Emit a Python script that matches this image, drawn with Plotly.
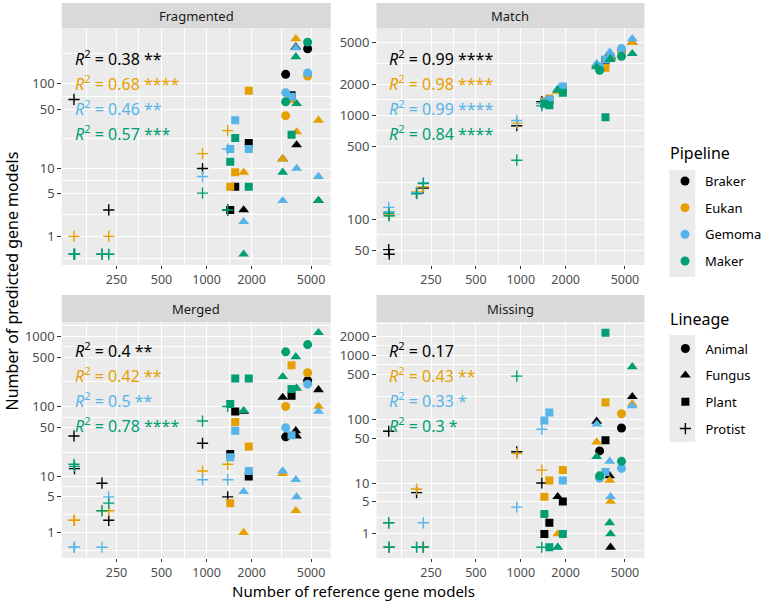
import numpy as np
import plotly.graph_objects as go

# ---------------- data ----------------
panels = ["Fragmented", "Match", "Merged", "Missing"]
pipelines = ["Braker", "Eukan", "Gemoma", "Maker"]
lineages = ["Animal", "Fungus", "Plant", "Protist"]

species = ["P1a", "P1b", "P2", "P3", "P4", "P5", "S1", "S2", "S3", "S4",
           "T1", "T2", "T3a", "T3b", "T4", "C1", "C2"]
lineage = ["Protist"] * 6 + ["Plant"] * 4 + ["Fungus"] * 5 + ["Animal"] * 2
ref_genes = [130, 131, 200, 222, 940, 1385, 1440, 1555, 1915, 3700,
             1770, 3230, 3950, 4000, 5600, 3380, 4740]

fragmented = {
    "Braker": [65, 0, 0, 3, 10, 3, 3, 6, 20, 73, 3, 13, 267, 19, 4, 128, 255],
    "Eukan":  [1, 0, 0, 1, 15, 28, 6, 9, 82, 66, 9, 13, 334, 27, 37, 42, 122],
    "Gemoma": [0, 0, 0, 0, 8, 17, 17, 37, 17, 70, 2, 4, 262, 10, 8, 78, 133],
    "Maker":  [0, 0, 0, 0, 5, 3, 12, 23, 6, 25, 0, 9, 205, 58, 4, 61, 305],
}
match = {
    "Braker": [51, 46, 178, 200, 794, 1355, 1350, 1400, 1800, 3400, 1750, 3050, 3900, 3700, 5000, 2900, 4200],
    "Eukan":  [112, 108, 183, 205, 841, 1310, 1355, 1450, 1800, 2880, 1700, 3000, 3800, 3600, 5000, 2850, 4200],
    "Gemoma": [130, 118, 180, 225, 893, 1300, 1330, 1420, 1900, 3440, 1800, 3150, 4070, 3800, 5460, 2930, 4390],
    "Maker":  [114, 108, 176, 221, 370, 1233, 1290, 1250, 1650, 960, 1754, 2930, 3440, 3500, 3925, 2720, 3700],
}
merged = {
    "Braker": [38, 13, 8, 2, 30, 5, 21, 85, 10, 142, 85, 134, 45, 38, 172, 37, 233],
    "Eukan":  [2, 2, 3, 3, 12, 15, 4, 60, 27, 386, 1, 11, 3, 180, 100, 100, 301],
    "Gemoma": [0, 0, 0, 5, 9, 9, 19, 45, 12, 39, 6, 12, 9, 5, 85, 50, 207],
    "Maker":  [15, 14, 3, 4, 62, 100, 108, 250, 250, 177, 87, 265, 506, 181, 1114, 596, 756],
}
missing = {
    "Braker": [65, 0, 7, 0, 31, 10, 1, 2, 5, 47, 6, 93, 13, 0, 226, 32, 73],
    "Eukan":  [2, 0, 8, 0, 29, 16, 6, 11, 16, 183, 1, 44, 11, 5, 174, 12, 122],
    "Gemoma": [2, 0, 0, 2, 4, 70, 96, 128, 11, 15, 0, 84, 22, 6, 162, 12, 17],
    "Maker":  [2, 0, 0, 0, 473, 0, 3, 0, 1, 2253, 0, 26, 2, 1, 660, 13, 22],
}
panel_data = [fragmented, match, merged, missing]

r2_labels = [
    ["0.38 **", "0.68 ****", "0.46 **", "0.57 ***"],
    ["0.99 ****", "0.98 ****", "0.99 ****", "0.84 ****"],
    ["0.4 **", "0.42 **", "0.5 **", "0.78 ****"],
    ["0.17", "0.43 **", "0.33 *", "0.3 *"],
]

x_breaks = [100, 250, 500, 1000, 2000, 5000]
y_breaks = [1, 5, 10, 50, 100, 500, 1000, 2000, 5000]

# ---------------- style ----------------
colors = {"Braker": "#000000", "Eukan": "#E69F00", "Gemoma": "#56B4E9", "Maker": "#009E73"}
symbols = {"Animal": "circle", "Fungus": "triangle-up", "Plant": "square", "Protist": "cross-thin"}
msize = {"Animal": 9, "Fungus": 9.5, "Plant": 8, "Protist": 8}
FONT = "Noto Sans"
W, H = 767, 602

LN10 = np.log(10)


def ptrans(v):
    return np.arcsinh(np.asarray(v, float) / 2.0) / LN10


def minor_mid(b):
    b = list(b)
    bd = b[1] - b[0]
    b = [b[0] - bd] + b + [b[-1] + bd]
    return [(b[i] + b[i + 1]) / 2 for i in range(len(b) - 1)]


# panel geometry (pixels)
px_x = [(62, 332), (378, 647), (62, 332), (378, 647)]
px_y = [(28, 265), (28, 265), (322, 558), (322, 558)]
strip_y = [(3, 28), (3, 28), (295, 322), (295, 322)]

fig = go.Figure()

# x range (log10) with 5% expansion
lx = np.log10(ref_genes)
xr = lx.max() - lx.min()
x_range = [lx.min() - 0.05 * xr, lx.max() + 0.05 * xr]
x_minor = [10 ** m for m in minor_mid(np.log10(x_breaks))]

for i, (pname, pdata) in enumerate(zip(panels, panel_data)):
    ax = "" if i == 0 else str(i + 1)
    for pipe in pipelines:
        vals = pdata[pipe]
        fig.add_trace(go.Scatter(
            x=ref_genes, y=ptrans(vals),
            mode="markers",
            xaxis="x" + ax, yaxis="y" + ax,
            showlegend=False,
            marker=dict(
                color=colors[pipe], opacity=1,
                symbol=[symbols[l] for l in lineage],
                size=[msize[l] for l in lineage],
                line=dict(color=colors[pipe],
                          width=[1.4 if l == "Protist" else 0 for l in lineage]),
            ),
            customdata=vals,
            hovertemplate="%{x}, %{customdata}<extra>" + pipe + "</extra>",
        ))

    allv = np.concatenate([ptrans(pdata[p]) for p in pipelines])
    yr = allv.max() - allv.min()
    y_range = [allv.min() - 0.05 * yr, allv.max() + 0.05 * yr]
    tb = ptrans(y_breaks)
    tv = [t for t in tb if y_range[0] <= t <= y_range[1]]
    tt = [str(b) for b, t in zip(y_breaks, tb) if y_range[0] <= t <= y_range[1]]
    ymin = [m for m in minor_mid(tb) if y_range[0] <= m <= y_range[1]]

    (x0, x1), (y0, y1) = px_x[i], px_y[i]
    common = dict(
        showgrid=True, gridcolor="white", gridwidth=1.2, zeroline=False,
        showline=False, ticks="outside", tickwidth=1.1, tickcolor="#333333",
    )
    fig.update_layout(**{
        "xaxis" + ax: dict(
            type="log", range=x_range, domain=[x0 / W, x1 / W],
            anchor="y" + ax, tickmode="array",
            tickvals=x_breaks, ticktext=[str(b) for b in x_breaks],
            ticklen=3, tickfont=dict(family=FONT, size=12.5, color="#4D4D4D"),
            minor=dict(tickmode="array", tickvals=x_minor, showgrid=True,
                       gridcolor="white", gridwidth=0.6, ticks=""),
            **common),
        "yaxis" + ax: dict(
            range=y_range, domain=[1 - y1 / H, 1 - y0 / H],
            anchor="x" + ax, tickmode="array", tickvals=tv, ticktext=tt,
            ticklen=3.5, tickfont=dict(family=FONT, size=13, color="#4D4D4D"),
            minor=dict(tickmode="array", tickvals=ymin, showgrid=True,
                       gridcolor="white", gridwidth=0.6, ticks=""),
            **common),
    })

    # strip
    sy0, sy1 = strip_y[i]
    fig.add_shape(type="rect", xref="paper", yref="paper",
                  x0=x0 / W, x1=x1 / W, y0=1 - sy1 / H, y1=1 - sy0 / H,
                  fillcolor="#D9D9D9", line=dict(width=0), layer="below")
    fig.add_annotation(text=pname, xref="paper", yref="paper",
                       x=(x0 + x1) / 2 / W, y=1 - (sy0 + sy1) / 2 / H,
                       showarrow=False, xanchor="center", yanchor="middle",
                       font=dict(family=FONT, size=13, color="#1A1A1A"))

    # R^2 labels
    ph = y1 - y0
    offs = [30, 55, 80, 105] if i < 2 else [28, 53, 78, 103]
    for k, pipe in enumerate(pipelines):
        fig.add_annotation(
            text="<i>R</i><sup>2</sup> = " + r2_labels[i][k],
            xref="x" + ax + " domain", yref="y" + ax + " domain",
            x=11 / (x1 - x0), y=1 - offs[k] / ph,
            xanchor="left", yanchor="middle", showarrow=False,
            font=dict(family=FONT, size=16, color=colors[pipe]))

# axis titles
fig.add_annotation(text="Number of reference gene models", xref="paper", yref="paper",
                   x=(62 + 647) / 2 / W, y=0, showarrow=False,
                   xanchor="center", yanchor="bottom", borderpad=0,
                   font=dict(family=FONT, size=15, color="#000000"))
fig.add_annotation(text="Number of predicted gene models", xref="paper", yref="paper",
                   x=12 / W, y=1 - 280.5 / H, showarrow=False, textangle=-90,
                   xanchor="center", yanchor="middle",
                   font=dict(family=FONT, size=16, color="#000000"))

# legend titles
for title, ty in [("Pipeline", 153), ("Lineage", 319)]:
    fig.add_annotation(text=title, xref="paper", yref="paper", x=671 / W, y=1 - ty / H,
                       showarrow=False, xanchor="left", yanchor="middle",
                       font=dict(family=FONT, size=16, color="#000000"))

# legend key backgrounds
fig.add_shape(type="rect", xref="paper", yref="paper", x0=672 / W, x1=698 / W,
              y0=1 - 277 / H, y1=1 - 170 / H, fillcolor="#EBEBEB", line=dict(width=0),
              layer="below")
fig.add_shape(type="rect", xref="paper", yref="paper", x0=672 / W, x1=698 / W,
              y0=1 - 442 / H, y1=1 - 335 / H, fillcolor="#EBEBEB", line=dict(width=0),
              layer="below")

# legend entries
for pipe in pipelines:
    fig.add_trace(go.Scatter(x=[None], y=[None], mode="markers", name=pipe,
                             legend="legend", legendgroup=pipe,
                             marker=dict(color=colors[pipe], symbol="circle", size=9)))
for lin in lineages:
    fig.add_trace(go.Scatter(x=[None], y=[None], mode="markers", name=lin,
                             legend="legend2", legendgroup=lin,
                             marker=dict(color="#000000", symbol=symbols[lin], size=msize[lin],
                                         line=dict(color="#000000",
                                                   width=1.4 if lin == "Protist" else 0))))

leg_common = dict(xanchor="left", yanchor="top", bgcolor="rgba(0,0,0,0)",
                  font=dict(family=FONT, size=13, color="#000000"),
                  traceorder="grouped", tracegroupgap=6.8, itemwidth=30)
fig.update_layout(
    width=W, height=H,
    margin=dict(l=0, r=0, t=0, b=0),
    paper_bgcolor="white", plot_bgcolor="#EBEBEB",
    font=dict(family=FONT),
    legend=dict(x=668 / W, y=1 - 166 / H, **leg_common),
    legend2=dict(x=668 / W, y=1 - 333.5 / H, **leg_common),
)

fig.write_html("out.html")
